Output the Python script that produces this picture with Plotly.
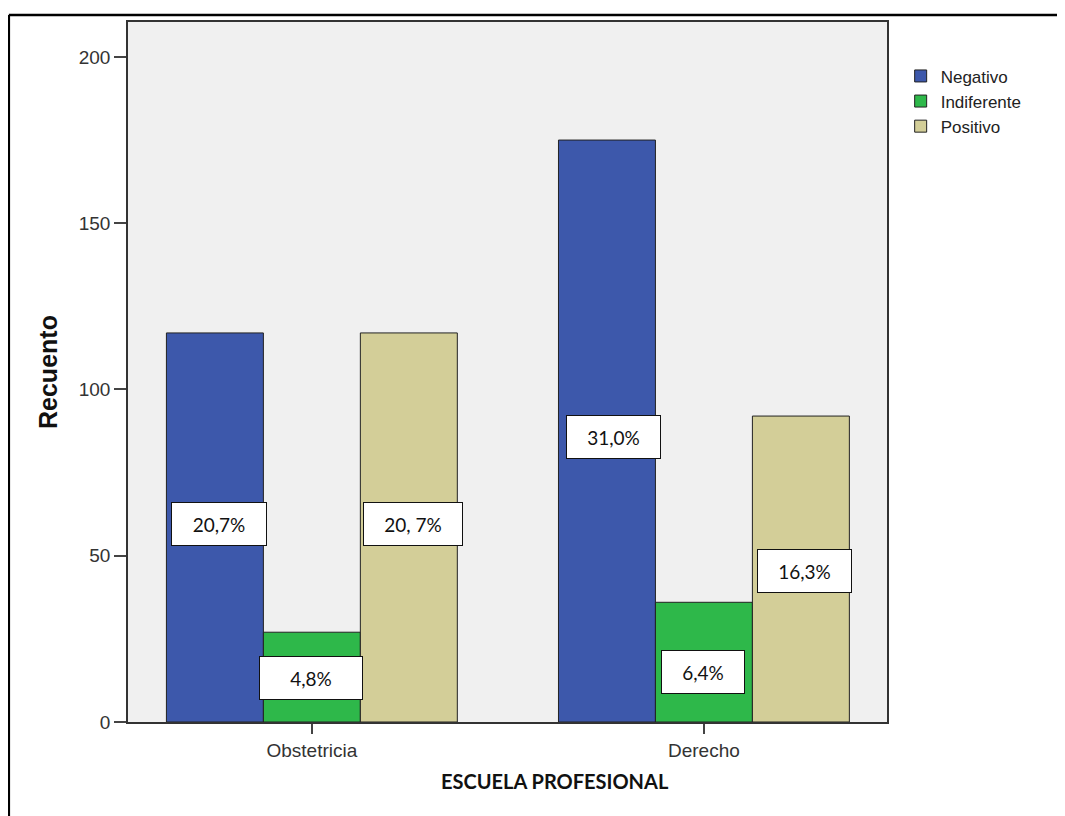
import plotly.graph_objects as go

categories = ["Obstetricia", "Derecho"]
series_names = ["Negativo", "Indiferente", "Positivo"]
negativo = [117, 175]
indiferente = [27, 36]
positivo = [117, 92]
series_values = [negativo, indiferente, positivo]
colors = ["#3D58AB", "#2EB84A", "#D3CE98"]

# percentage labels: (category index, series index, text, y position)
pct_labels = [
    (0, 0, "20,7%", 59.4),
    (0, 1, "4,8%", 13.2),
    (0, 2, "20, 7%", 59.4),
    (1, 0, "31,0%", 85.8),
    (1, 1, "6,4%", 15.0),
    (1, 2, "16,3%", 45.3),
]
label_widths = [92, 100, 96, 91, 80, 91]
label_xshift = [4, -1, 4, 7, -1, 4]

fig = go.Figure()
for name, vals, col in zip(series_names, series_values, colors):
    fig.add_trace(go.Bar(
        x=categories, y=vals, name=name,
        marker=dict(color=col, line=dict(color="#222222", width=1)),
    ))

bar_w = 0.2474
for (ci, si, txt, yv), w, xs in zip(pct_labels, label_widths, label_xshift):
    fig.add_annotation(
        x=ci + (si - 1) * bar_w, y=yv, xref="x", yref="y",
        text=txt, showarrow=False, xshift=xs,
        font=dict(family="Lato, Carlito, sans-serif", size=19, color="#111111"),
        bgcolor="white", bordercolor="#111111", borderwidth=1,
        width=w, height=40, align="center", valign="middle",
    )

# axis titles
fig.add_annotation(
    x=0.5626, y=-0.084, xref="paper", yref="paper",
    xanchor="center", yanchor="middle",
    text="<b>ESCUELA PROFESIONAL</b>", showarrow=False,
    font=dict(family="Lato, Carlito, sans-serif", size=20, color="#111111"),
)
fig.add_annotation(
    x=-0.1054, y=0.5, xref="paper", yref="paper",
    xanchor="center", yanchor="middle",
    text="<b>Recuento</b>", showarrow=False, textangle=-90,
    font=dict(family="Liberation Sans, Arial, sans-serif", size=25, color="#111111"),
)

# outer frame (top and left edges)
fig.add_shape(type="line", xref="paper", yref="paper",
              x0=-0.157, x1=1.30, y0=1.0100, y1=1.0100,
              line=dict(color="black", width=2.5))
fig.add_shape(type="line", xref="paper", yref="paper",
              x0=-0.157, x1=-0.157, y0=1.0100, y1=-0.14,
              line=dict(color="black", width=2.5))

fig.update_layout(
    width=1057, height=808,
    margin=dict(l=120, r=178, t=12, b=94),
    paper_bgcolor="white", plot_bgcolor="#F0F0F0",
    barmode="group", bargap=0.258, bargroupgap=0,
    font=dict(family="Liberation Sans, Arial, sans-serif", size=19, color="#333333"),
    showlegend=True,
    legend=dict(x=1.018, y=0.948, xanchor="left", yanchor="top",
                font=dict(size=17, color="#222222"), bgcolor="rgba(0,0,0,0)",
                tracegroupgap=0, itemwidth=30),
    xaxis=dict(range=[-0.469, 1.467], showline=True, mirror=True,
               linecolor="#333333", linewidth=1.5, ticks="outside", ticklen=10,
               tickcolor="#444444", tickwidth=2, showgrid=False,
               tickfont=dict(size=19, color="#333333")),
    yaxis=dict(range=[0, 210.5], tickvals=[0, 50, 100, 150, 200],
               showline=True, mirror=True, linecolor="#333333", linewidth=1.5,
               ticks="outside", ticklen=12, tickcolor="#444444", tickwidth=2,
               showgrid=False, zeroline=False,
               tickfont=dict(size=19, color="#333333")),
)

fig.write_html("out.html")
